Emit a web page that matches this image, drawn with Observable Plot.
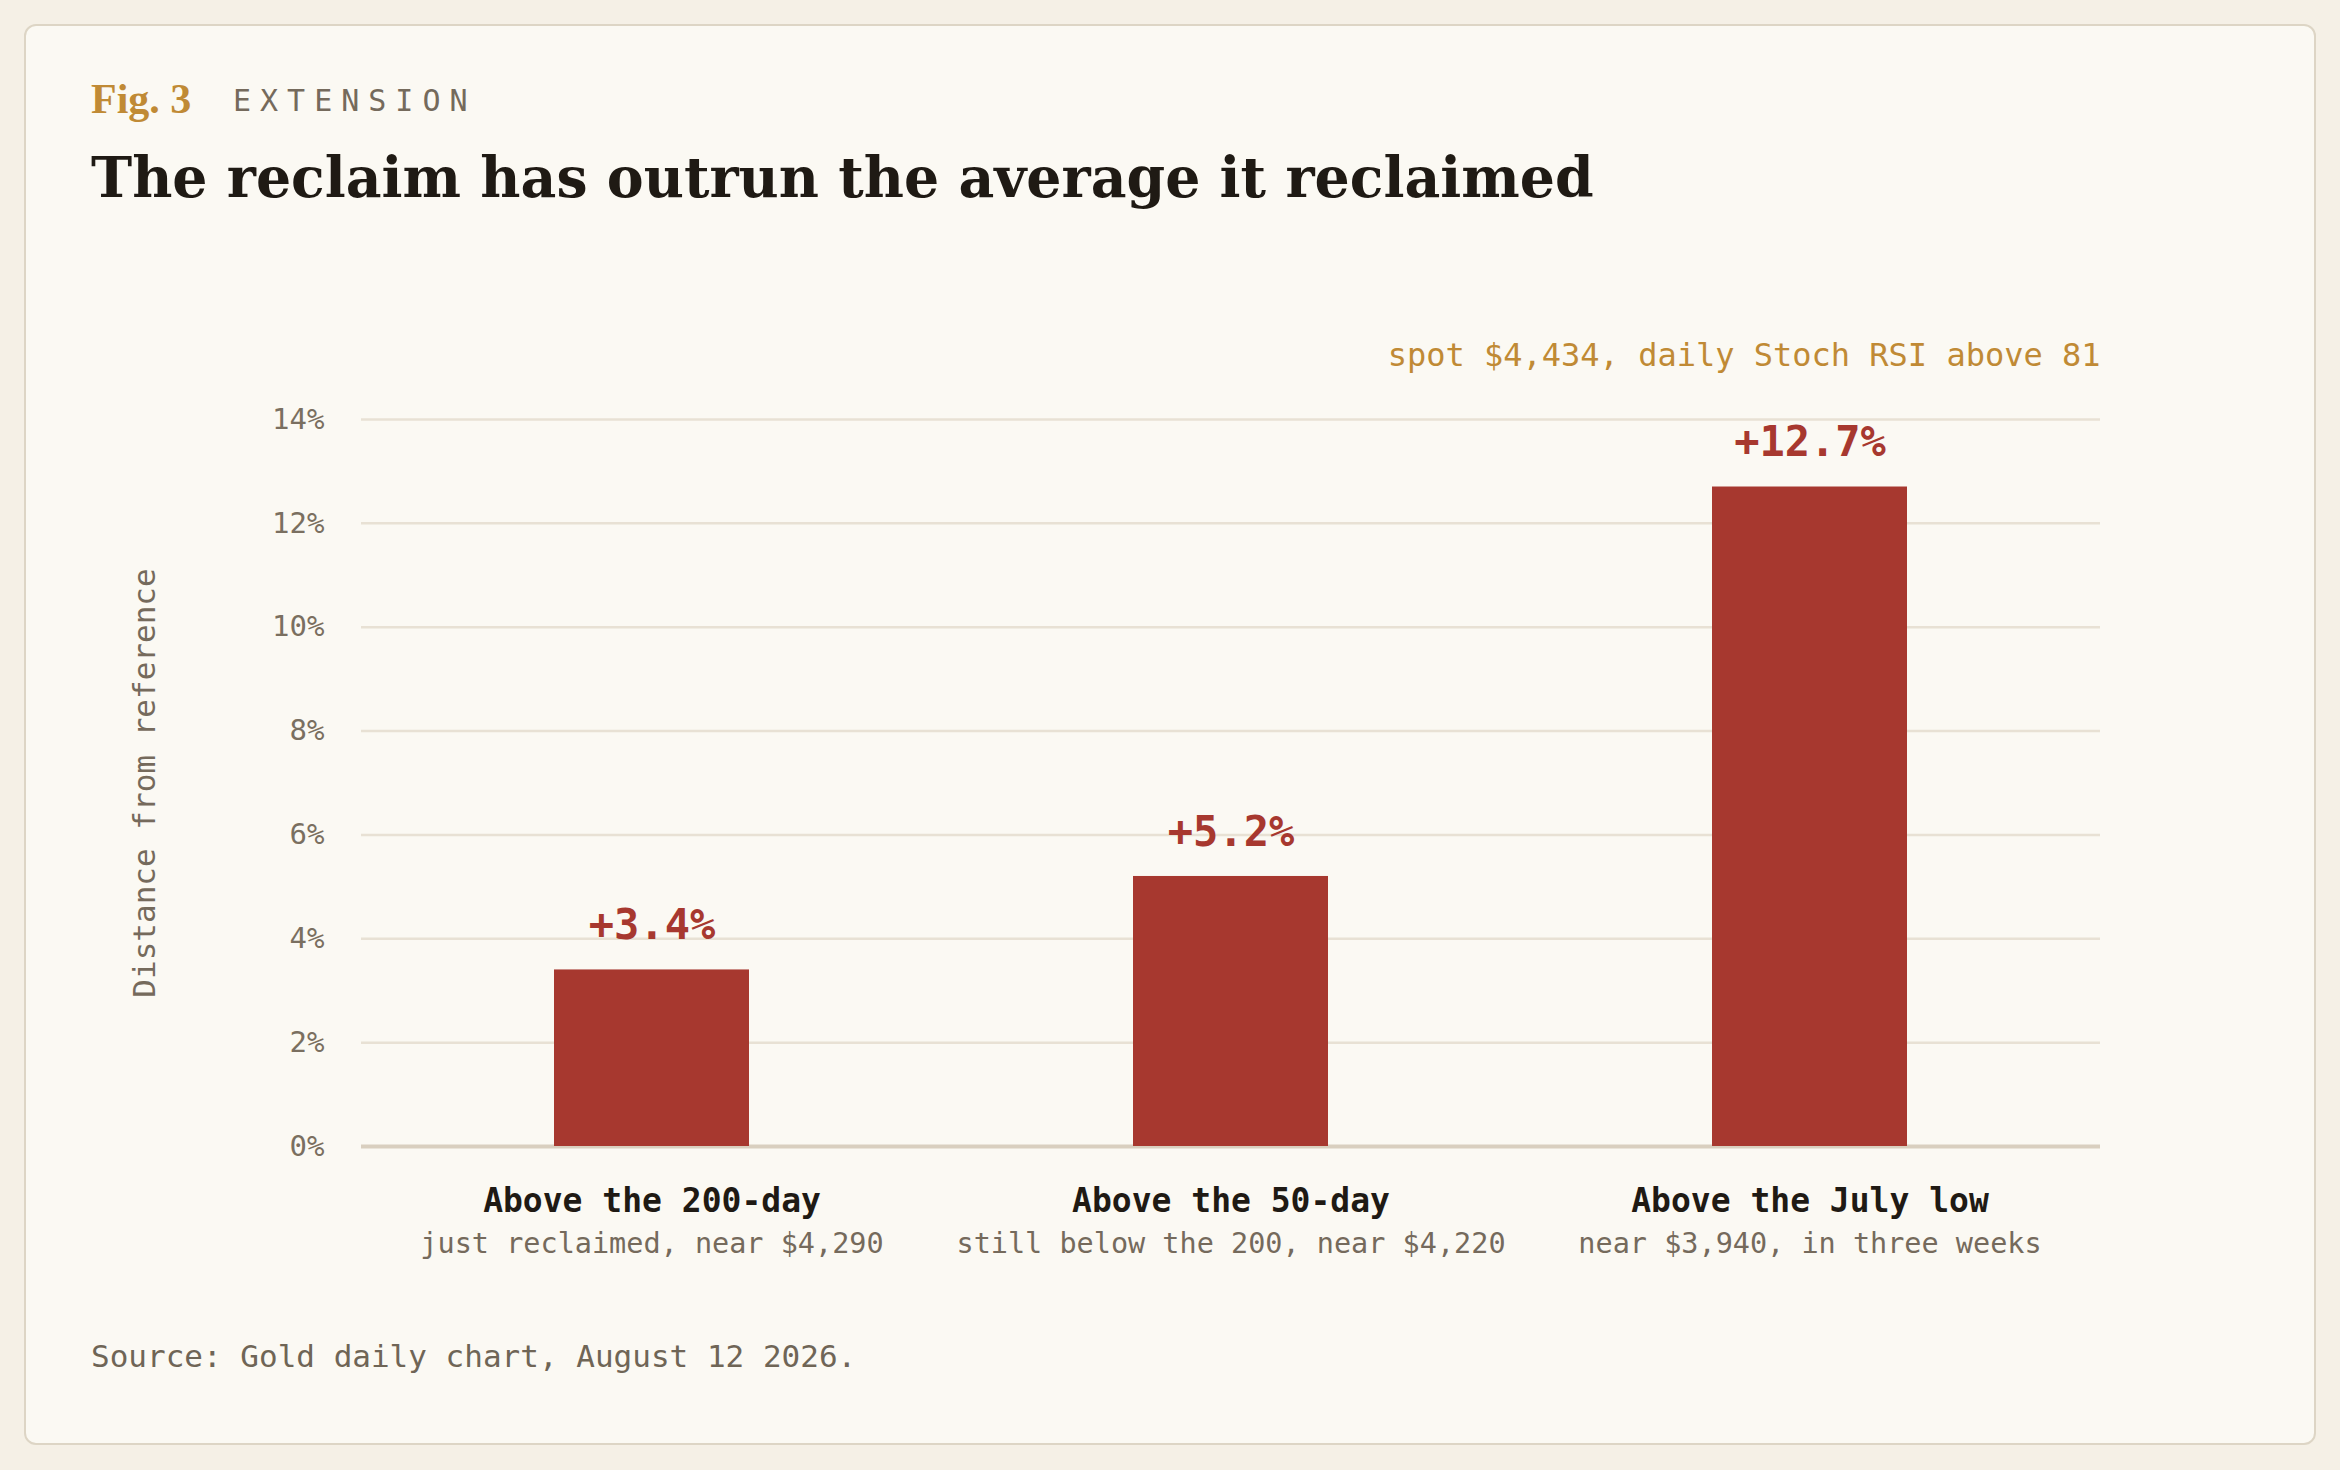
<!DOCTYPE html>
<html>
<head>
<meta charset="utf-8">
<script src="https://cdn.jsdelivr.net/npm/d3@7"></script>
<script src="https://cdn.jsdelivr.net/npm/@observablehq/plot@0.6"></script>
<style>
  html, body { margin: 0; padding: 0; background: #f5f0e6; }
  body { width: 2340px; height: 1470px; position: relative; overflow: hidden; }
  .card { position: absolute; left: 24px; top: 24px; width: 2292px; height: 1421px; box-sizing: border-box;
          background: #fbf9f3; border: 2px solid #ddd5c5; border-radius: 12px; }
  .fig { position: absolute; left: 65px; top: 52px; font-family: "Liberation Serif", serif; font-weight: bold;
         font-size: 42px; line-height: 1; color: #c08a35; white-space: nowrap; }
  .kicker { position: absolute; left: 207px; top: 60px; font-family: "DejaVu Sans Mono", monospace;
            font-size: 30px; line-height: 1; letter-spacing: 9px; color: #756a5c; }
  .title { position: absolute; left: 65px; top: 152px; font-family: "DejaVu Serif", serif; font-weight: bold;
           font-size: 57px; line-height: 1; color: #1f1a14; white-space: nowrap; transform: translateY(-50%); }
  .chart { position: absolute; left: 65px; top: 274px; }
  .source { position: absolute; left: 65px; top: 1315px; font-family: "DejaVu Sans Mono", monospace;
            font-size: 31px; line-height: 1; color: #6f6556; }
</style>
</head>
<body>
<div class="card">
  <div class="fig" id="fig">Fig. 3</div>
  <div class="kicker">EXTENSION</div>
  <div class="title" id="title">The reclaim has outrun the average it reclaimed</div>
  <div class="chart" id="chart"></div>
  <div class="source">Source: Gold daily chart, August 12 2026.</div>
</div>
<script>
const categories = ["Above the 200-day", "Above the 50-day", "Above the July low"];
const values = [3.4, 5.2, 12.7];
const subtitles = ["just reclaimed, near $4,290", "still below the 200, near $4,220", "near $3,940, in three weeks"];
const yTicks = [0, 2, 4, 6, 8, 10, 12, 14];
const yLabel = "Distance from reference";
const annotation = "spot $4,434, daily Stoch RSI above 81";

// fit title width to the reference
function fitWidth(el, target) {
  const fs = parseFloat(getComputedStyle(el).fontSize);
  const w = el.getBoundingClientRect().width;
  el.style.fontSize = (fs * target / w) + "px";
}
fitWidth(document.getElementById("title"), 1503);

const data = categories.map((c, i) => ({category: c, value: values[i], sub: subtitles[i]}));
const mono = "'DejaVu Sans Mono', monospace";

const chart = Plot.plot({
  width: 2158,
  height: 976,
  marginTop: 119,
  marginBottom: 130,
  marginLeft: 270,
  marginRight: 149,
  style: {background: "transparent", fontFamily: mono, overflow: "visible"},
  x: {domain: categories, paddingInner: 0.663, paddingOuter: 0.3315, axis: null},
  y: {domain: [0, 14], axis: null},
  marks: [
    Plot.ruleY(yTicks.filter(t => t > 0), {stroke: "#e8e1d4", strokeWidth: 2.5}),
    Plot.ruleY([0], {stroke: "#d9cfbf", strokeWidth: 4}),
    Plot.barY(data, {x: "category", y: "value", fill: "#a7382f"}),
    Plot.text(data, {x: "category", y: "value", text: d => `+${d.value.toFixed(1)}%`, dy: -44,
      fontSize: 42, fontWeight: "bold", fill: "#a7382f"}),
    Plot.axisY({ticks: yTicks, tickFormat: d => d + "%", tickSize: 0, tickPadding: 37,
      fontSize: 29, color: "#7a6f60", label: null}),
    Plot.text(data, {x: "category", y: () => 0, text: "category", dy: 55, fontSize: 33,
      fontWeight: "bold", fill: "#1f1a14"}),
    Plot.text(data, {x: "category", y: () => 0, text: "sub", dy: 97, fontSize: 28.5, fill: "#756a5c"}),
    Plot.text([yLabel], {frameAnchor: "left", textAnchor: "middle", rotate: -90, dx: -216, fontSize: 31, fill: "#756a5c"}),
    Plot.text([annotation], {frameAnchor: "top-right", textAnchor: "end", dy: -76, fontSize: 32, fill: "#c08a35"})
  ]
});
document.getElementById("chart").appendChild(chart);
</script>
</body>
</html>
